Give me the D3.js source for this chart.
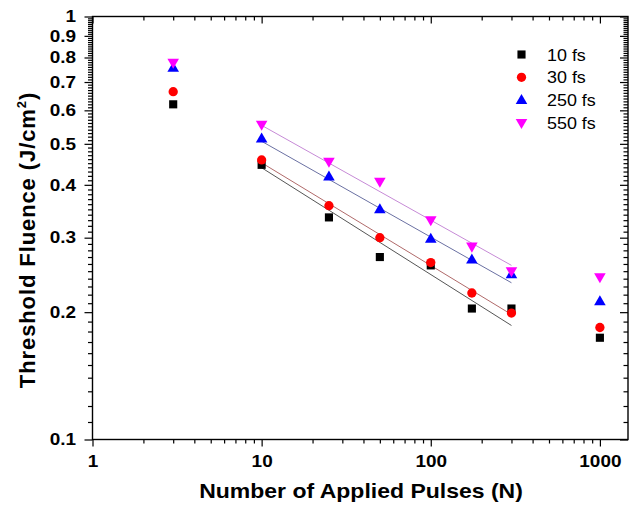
<!DOCTYPE html>
<html>
<head>
<meta charset="utf-8">
<script src="https://cdn.jsdelivr.net/npm/d3@7"></script>
<style>
  html, body { margin: 0; padding: 0; background: #fff; }
  svg { display: block; font-family: Arial, "Liberation Sans", sans-serif; }
</style>
</head>
<body>
<svg id="chart"></svg>
<script>
// values
const pulses = [3, 10, 25, 50, 100, 175, 300, 1000];
const fs10 = [0.620, 0.446, 0.335, 0.270, 0.258, 0.204, 0.204, 0.174];
const fs30 = [0.664, 0.458, 0.357, 0.300, 0.262, 0.222, 0.199, 0.184];
const fs250 = [0.756, 0.514, 0.418, 0.350, 0.298, 0.266, 0.2455, 0.212];
const fs550 = [0.778, 0.555, 0.454, 0.407, 0.330, 0.286, 0.250, 0.242];

// fitted lines, end points
const fitX = [10, 300];
const fit10 = [0.439, 0.186];
const fit30 = [0.451, 0.1975];
const fit250 = [0.507, 0.2347];
const fit550 = [0.553, 0.258];

const seriesNames = ["10 fs", "30 fs", "250 fs", "550 fs"];
const xTickLabels = [1, 10, 100, 1000];
const yTickLabels = [0.1, 0.2, 0.3, 0.4, 0.5, 0.6, 0.7, 0.8, 0.9, 1];

const width = 636, height = 507;
const pLeft = 92.5, pRight = 628, pTop = 16.5, pBottom = 439.5;
const stretch = 1.15; // the reference text is a bit wider than plain Arial

const svg = d3.select("#chart").attr("width", width).attr("height", height);

const x = d3.scaleLog().domain([1, 1466]).range([pLeft, pRight]);
const y = d3.scaleLog().domain([0.1, 1]).range([pBottom, pTop]);

const series = [
    { name: seriesNames[0], vals: fs10, fit: fit10, color: "#000000", line: "#555555", shape: "square" },
    { name: seriesNames[1], vals: fs30, fit: fit30, color: "#ff0000", line: "#b06a6a", shape: "circle" },
    { name: seriesNames[2], vals: fs250, fit: fit250, color: "#0000ff", line: "#6a70a2", shape: "up" },
    { name: seriesNames[3], vals: fs550, fit: fit550, color: "#ff00ff", line: "#c68ad6", shape: "down" }
];

function symbolPath(shape) {
    if (shape === "square") return d3.symbol(d3.symbolSquare, 66)();
    if (shape === "circle") return d3.symbol(d3.symbolCircle, 68)();
    return d3.symbol(d3.symbolTriangle, 58)();
}
function symbolTransform(shape, px, py) {
    if (shape === "up") return `translate(${px},${py + 0.5})`;
    if (shape === "down") return `translate(${px},${py - 0.5}) rotate(180)`;
    return `translate(${px},${py})`;
}

// minor tick values
const xMinor = [];
for (let d = 1; d <= 1000; d *= 10)
    for (let k = 2; k <= 9; k++) if (d * k < 1466) xMinor.push(d * k);
const yMinor = d3.range(11, 100).map(v => v / 100).filter(v => Math.round(v * 100) % 10 !== 0);

// axes
function axisStyle(sel) {
    sel.select(".domain").remove();
    sel.selectAll("line").attr("stroke", "#000").attr("stroke-width", 1.2);
}
function labelStyle(g) {
    g.selectAll("text").attr("font-size", 16.5).attr("font-weight", "bold").attr("fill", "#000")
        .attr("font-family", "Arial, 'Liberation Sans', sans-serif")
        .each(function() {
            const t = d3.select(this);
            const tx = +t.attr("x") || 0;
            t.attr("x", tx / stretch).attr("transform", `scale(${stretch},1)`);
        });
}

svg.append("g").attr("transform", `translate(0,${pBottom})`)
    .call(d3.axisBottom(x).tickValues(xTickLabels).tickSize(7).tickPadding(9).tickFormat(d3.format("d")))
    .call(axisStyle)
    .call(labelStyle);
svg.append("g").attr("transform", `translate(0,${pBottom})`)
    .call(d3.axisBottom(x).tickValues(xMinor).tickSize(4).tickFormat(""))
    .call(axisStyle);
svg.append("g").attr("transform", `translate(0,${pTop})`)
    .call(d3.axisBottom(x).tickValues(xTickLabels).tickSize(7).tickFormat(""))
    .call(axisStyle);
svg.append("g").attr("transform", `translate(0,${pTop})`)
    .call(d3.axisBottom(x).tickValues(xMinor).tickSize(4).tickFormat(""))
    .call(axisStyle);

svg.append("g").attr("transform", `translate(${pLeft},0)`)
    .call(d3.axisLeft(y).tickValues(yTickLabels).tickSize(8).tickPadding(8.5).tickFormat(d => d === 1 ? "1" : d3.format(".1f")(d)))
    .call(axisStyle)
    .call(labelStyle);
svg.append("g").attr("transform", `translate(${pLeft},0)`)
    .call(d3.axisLeft(y).tickValues(yMinor).tickSize(4.5).tickFormat(""))
    .call(axisStyle);
svg.append("g").attr("transform", `translate(${pRight},0)`)
    .call(d3.axisLeft(y).tickValues(yTickLabels).tickSize(8).tickFormat(""))
    .call(axisStyle);
svg.append("g").attr("transform", `translate(${pRight},0)`)
    .call(d3.axisLeft(y).tickValues(yMinor).tickSize(4.5).tickFormat(""))
    .call(axisStyle);

// frame
svg.append("rect")
    .attr("x", pLeft).attr("y", pTop)
    .attr("width", pRight - pLeft).attr("height", pBottom - pTop)
    .attr("fill", "none").attr("stroke", "#000").attr("stroke-width", 1.4);

// fit lines
series.forEach(s => {
    svg.append("line")
        .attr("x1", x(fitX[0])).attr("y1", y(s.fit[0]))
        .attr("x2", x(fitX[1])).attr("y2", y(s.fit[1]))
        .attr("stroke", s.line).attr("stroke-width", 1);
});

// markers
series.forEach(s => {
    svg.append("g").selectAll("path")
        .data(pulses.map((p, i) => [p, s.vals[i]]))
        .enter().append("path")
        .attr("d", symbolPath(s.shape))
        .attr("transform", d => symbolTransform(s.shape, x(d[0]), y(d[1])))
        .attr("fill", s.color);
});

// legend
const legend = svg.append("g");
series.forEach((s, i) => {
    const ly = 54.5 + i * 22.8;
    legend.append("path")
        .attr("d", symbolPath(s.shape))
        .attr("transform", symbolTransform(s.shape, 521.5, ly))
        .attr("fill", s.color);
    legend.append("text")
        .attr("transform", `translate(547,${ly + 6}) scale(1.12,1)`)
        .attr("font-size", 16)
        .attr("fill", "#000")
        .text(s.name);
});

// axis titles
svg.append("text")
    .attr("transform", "translate(361,498) scale(1.15,1)")
    .attr("text-anchor", "middle")
    .attr("font-size", 20).attr("font-weight", "bold")
    .text("Number of Applied Pulses (N)");

const yt = svg.append("text")
    .attr("transform", "translate(35,240) rotate(-90)")
    .attr("text-anchor", "middle")
    .attr("font-size", 22).attr("font-weight", "bold")
    .attr("letter-spacing", 0.9);
yt.append("tspan").text("Threshold Fluence (J/cm");
yt.append("tspan").attr("font-size", 13).attr("dy", -9).text("2");
yt.append("tspan").attr("dy", 9).text(")");
</script>
</body>
</html>
